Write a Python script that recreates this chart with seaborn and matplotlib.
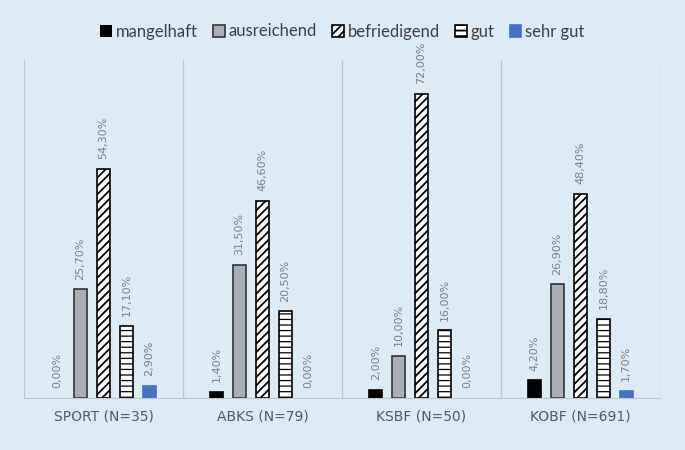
import pandas as pd
import matplotlib
matplotlib.use("Agg")
from matplotlib import pyplot as plt
import seaborn as sns

gruppen = ['SPORT (N=35)', 'ABKS (N=79)', 'KSBF (N=50)', 'KOBF (N=691)']
noten = ['mangelhaft', 'ausreichend', 'befriedigend', 'gut', 'sehr gut']

mangelhaft = [0.0, 1.4, 2.0, 4.2]
ausreichend = [25.7, 31.5, 10.0, 26.9]
befriedigend = [54.3, 46.6, 72.0, 48.4]
gut = [17.1, 20.5, 16.0, 18.8]
sehr_gut = [2.9, 0.0, 0.0, 1.7]

werte = [mangelhaft, ausreichend, befriedigend, gut, sehr_gut]

rows = []
for note, vals in zip(noten, werte):
    for g, v in zip(gruppen, vals):
        rows.append({'gruppe': g, 'note': note, 'wert': v})
df = pd.DataFrame(rows)

bg = '#DDEBF7'
farben = ['#000000', '#A8AFB8', '#FFFFFF', '#FFFFFF', '#4472C4']
kanten = ['#000000', '#333333', '#000000', '#000000', '#4472C4']
muster = ['', '', '////', '---', '']
hatch_lw = [1.3, 1.3, 1.3, 0.9, 1.3]

sns.set_style('white')
plt.rcParams['font.family'] = ['DejaVu Sans']
plt.rcParams['hatch.linewidth'] = 1.3

fig = plt.figure(figsize=(6.85, 4.5), dpi=100, facecolor=bg)
ax = fig.add_axes([0.035, 0.1156, 0.9285, 0.751])
ax.set_facecolor(bg)

sns.barplot(data=df, x='gruppe', y='wert', hue='note', hue_order=noten,
            order=gruppen, palette=farben, width=0.72, gap=0.45,
            ax=ax, legend=False)

for i, cont in enumerate(ax.containers):
    for p in cont:
        p.set_facecolor(farben[i])
        p.set_edgecolor(kanten[i])
        p.set_linewidth(1.2 if p.get_height() > 0 else 0)
        p.set_hatch(muster[i])
        try:
            p.set_hatch_linewidth(hatch_lw[i])
        except AttributeError:
            pass
    labels = [('%.2f%%' % v).replace('.', ',') for v in werte[i]]
    ax.bar_label(cont, labels=labels, rotation=90, padding=7,
                 color='#7F7F7F', fontsize=8)

ax.set_ylim(0, 80)
ax.set_xlim(-0.5, 3.5)
for x in [-0.5, 0.5, 1.5, 2.5, 3.5]:
    ax.axvline(x, color='#BFC5CC', linewidth=1, zorder=0)

for s in ['top', 'left', 'right']:
    ax.spines[s].set_visible(False)
ax.spines['bottom'].set_color('#BFC5CC')
ax.set_yticks([])
ax.set_xlabel('')
ax.set_ylabel('')
ax.tick_params(axis='x', length=0, pad=8, labelsize=10, labelcolor='#595959')

handles = [c[0] for c in ax.containers]
fig.legend(handles, noten, loc='center', bbox_to_anchor=(0.5, 0.93), ncol=5,
           frameon=False, handlelength=0.7, handleheight=0.7, handletextpad=0.25,
           columnspacing=0.9, prop={'family': 'Lato', 'size': 12},
           labelcolor='#404040')

fig.savefig('out.png', dpi=100, facecolor=bg)
